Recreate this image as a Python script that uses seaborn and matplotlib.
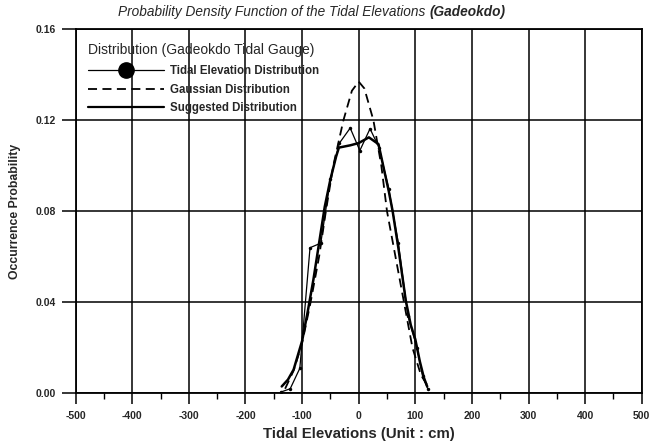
import matplotlib
matplotlib.use("Agg")
import matplotlib.pyplot as plt
import seaborn as sns
from matplotlib.lines import Line2D
from matplotlib.ticker import MultipleLocator, FormatStrFormatter

# ---- data ----
tidal_x = [-138, -121, -104, -86, -67, -50, -34, -15, 2, 20, 36, 53, 70, 87, 103, 113, 122]
tidal_y = [0.0005, 0.002, 0.011, 0.064, 0.066, 0.094, 0.110, 0.1166, 0.1067, 0.1163,
           0.108, 0.090, 0.066, 0.034, 0.020, 0.0074, 0.002]

gauss_x = [-130, -115, -100, -85, -70, -58, -45, -27, -12, 0, 10, 26, 40, 50, 65, 80, 95, 110, 125]
gauss_y = [0.002, 0.010, 0.022, 0.040, 0.060, 0.080, 0.100, 0.120, 0.133, 0.137, 0.134,
           0.120, 0.100, 0.080, 0.060, 0.040, 0.020, 0.008, 0.002]

sugg_x = [-136, -125, -115, -100, -90, -80, -70, -60, -50, -40, -35, -15, 0, 18, 35, 45,
          53, 60, 70, 83, 92, 100, 108, 115, 121]
sugg_y = [0.003, 0.006, 0.0104, 0.023, 0.036, 0.050, 0.066, 0.082, 0.094, 0.104, 0.108,
          0.109, 0.110, 0.1125, 0.1095, 0.098, 0.089, 0.080, 0.064, 0.041, 0.030, 0.0237,
          0.014, 0.007, 0.003]

x_ticks = [-500, -400, -300, -200, -100, 0, 100, 200, 300, 400, 500]
y_ticks = [0.00, 0.04, 0.08, 0.12, 0.16]

title_main = "Probability Density Function of the Tidal Elevations "
title_bold = "(Gadeokdo)"
x_label = "Tidal Elevations (Unit : cm)"
y_label = "Occurrence Probability"
legend_title = "Distribution (Gadeokdo Tidal Gauge)"
labels = ["Tidal Elevation Distribution", "Gaussian Distribution", "Suggested Distribution"]

# ---- style ----
sns.set_theme(style="white")
plt.rcParams['font.family'] = ['Liberation Sans', 'DejaVu Sans']
plt.rcParams['axes.unicode_minus'] = False

fig = plt.figure(figsize=(6.49, 4.44), dpi=100)
ax = fig.add_axes([0.1166, 0.1142, 0.8722, 0.8198])

dash = (0, (5, 3))
sns.lineplot(x=gauss_x, y=gauss_y, ax=ax, color='black', lw=1.3, linestyle=dash, estimator=None)
sns.lineplot(x=sugg_x, y=sugg_y, ax=ax, color='black', lw=1.8, estimator=None)
sns.lineplot(x=tidal_x, y=tidal_y, ax=ax, color='black', lw=0.9, marker='o',
             markersize=2.5, markeredgewidth=0, estimator=None)

ax.set_xlim(-500, 500)
ax.set_ylim(0, 0.16)
ax.set_xticks(x_ticks)
ax.set_yticks(y_ticks)
ax.xaxis.set_minor_locator(MultipleLocator(50))
ax.yaxis.set_major_formatter(FormatStrFormatter('%.2f'))
ax.grid(True, which='major', color='black', lw=1.1)
ax.set_axisbelow(True)
for s in ax.spines.values():
    s.set_color('black')
    s.set_linewidth(1.3)

ax.tick_params(axis='x', which='major', direction='out', length=8, width=1.1, color='black',
               bottom=True, labelsize=7.5, pad=5)
ax.tick_params(axis='x', which='minor', direction='out', length=4, width=1.0, color='black',
               bottom=True)
ax.tick_params(axis='y', which='major', direction='out', length=10, width=1.1, color='black',
               left=True, labelsize=7.5, pad=4)
for lab in ax.get_xticklabels() + ax.get_yticklabels():
    lab.set_fontweight('bold')

ax.set_xlabel(x_label, fontsize=10.8, fontweight='bold', labelpad=4)
ax.set_ylabel(y_label, fontsize=8.8, fontweight='bold', labelpad=11)

t1 = fig.text(0.182, 0.973, title_main, fontsize=9.8, style='italic', ha='left', va='center')
ax.annotate(title_bold, xy=(1, 0.5), xycoords=t1, fontsize=9.8, style='italic',
            fontweight='bold', ha='left', va='center')

handles = [
    Line2D([], [], color='black', lw=0.9, marker='o', markersize=11),
    Line2D([], [], color='black', lw=1.3, linestyle=dash),
    Line2D([], [], color='black', lw=1.6),
]
leg = ax.legend(handles, labels, title=legend_title, loc='upper left',
                bbox_to_anchor=(0.0217, 0.962), frameon=False,
                prop={'size': 8.3, 'weight': 'bold'},
                title_fontsize=10, handlelength=6.6, handletextpad=0.5,
                labelspacing=0.55, borderpad=0, borderaxespad=0)
leg._legend_box.align = "left"
leg._legend_box.sep = 6

fig.savefig("out.png", dpi=100)
